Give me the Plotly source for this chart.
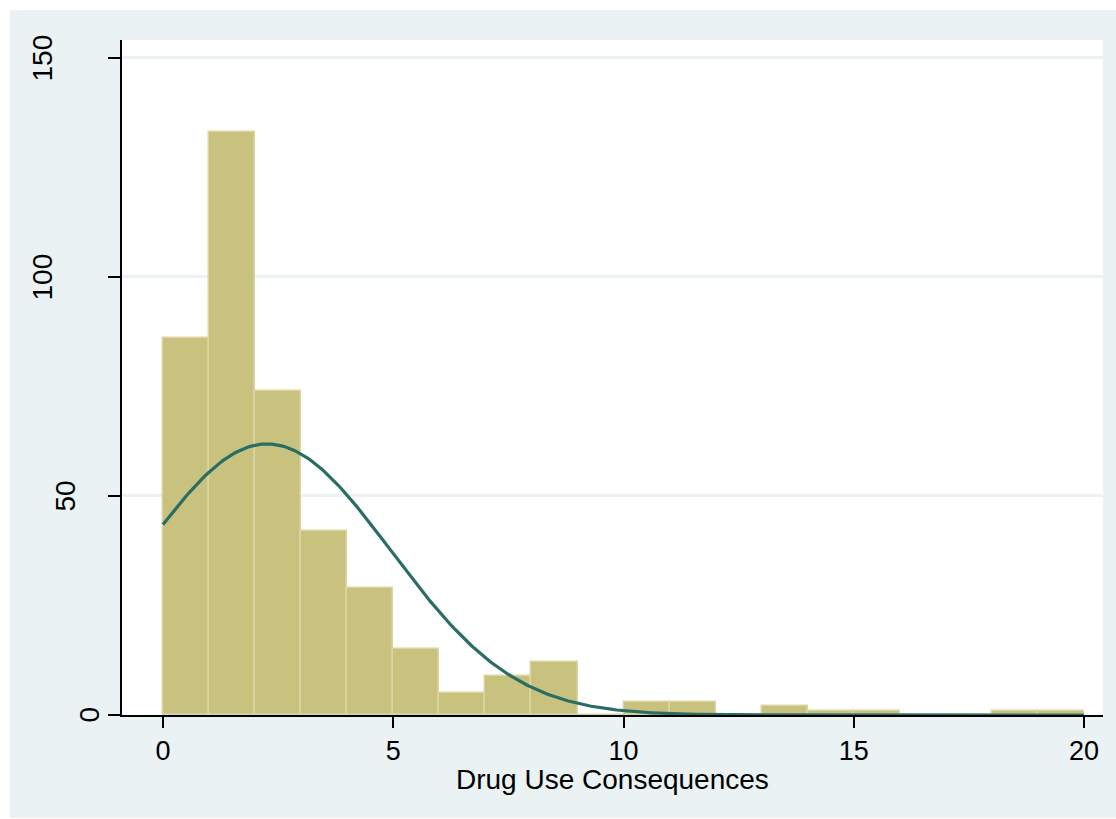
import numpy as np
import plotly.graph_objects as go

# Histogram data (bin width 1, bins start at 0)
bin_left = list(range(20))
counts = [86, 133, 74, 42, 29, 15, 5, 9, 12, 0, 3, 3, 0, 2, 1, 1, 0, 0, 1, 1]
y_ticks = [0, 50, 100, 150]
x_ticks = [0, 5, 10, 15, 20]
x_title = "Drug Use Consequences"

# normal density overlay fitted from the data (values = bin left edges)
vals = np.array(bin_left, dtype=float)
cnt = np.array(counts, dtype=float)
n = cnt.sum()
mu = (vals * cnt).sum() / n
sd = np.sqrt(((vals - mu) ** 2 * cnt).sum() / n)
xc = np.linspace(0, 20, 401)
yc = n * 1.0 / (sd * np.sqrt(2 * np.pi)) * np.exp(-0.5 * ((xc - mu) / sd) ** 2)

BG = "#EAF2F3"
FONT = "Liberation Sans, Arial, sans-serif"

fig = go.Figure()
fig.add_trace(go.Bar(
    x=[b + 0.5 for b in bin_left], y=counts, width=1,
    marker=dict(color="#C9C27F", line=dict(color="#DAD5A3", width=1.5)),
    showlegend=False,
))
fig.add_trace(go.Scatter(
    x=xc, y=yc, mode="lines",
    line=dict(color="#2A6D65", width=3.2), showlegend=False,
))

# y tick labels as rotated annotations (offset like the original)
for t in y_ticks:
    s = str(t)
    fig.add_annotation(
        x=0, xref="paper", y=t, yref="y", text=s, showarrow=False,
        textangle=-90, xanchor="center", yanchor="middle",
        xshift=-33.5 - 23 * (len(s) - 1),
        font=dict(family=FONT, size=28, color="black"),
    )

W, H = 1116, 819
L, R, T, B = 122, 13, 40, 104
pw, ph = W - L - R, H - T - B
def px(x):
    return (x - L) / pw
def py(y):
    return (H - B - y) / ph

# x-axis title
fig.add_annotation(
    x=0.5, xref="paper", y=py(779), yref="paper", text=x_title,
    showarrow=False, xanchor="center", yanchor="middle",
    font=dict(family=FONT, size=28, color="black"),
)

# thin white frame on top/left/bottom edges of the page
for x0, y0, x1, y1 in [(0, 0, W, 10), (0, 0, 10, H), (0, 818, W, H)]:
    fig.add_shape(type="rect", xref="paper", yref="paper",
                  x0=px(x0), x1=px(x1), y0=py(y1), y1=py(y0),
                  fillcolor="white", line=dict(width=0), layer="above")

fig.update_layout(
    width=W, height=H,
    margin=dict(l=L, r=R, t=T, b=B),
    paper_bgcolor=BG, plot_bgcolor="white",
    bargap=0,
    font=dict(family=FONT, size=28, color="black"),
    xaxis=dict(
        range=[-0.89, 20.41], tickvals=x_ticks, ticks="outside", ticklen=11,
        tickwidth=1.5, tickcolor="black", showline=True, linecolor="black",
        linewidth=1.5, showgrid=False, zeroline=False,
        tickfont=dict(family=FONT, size=27, color="black"),
    ),
    yaxis=dict(
        range=[0, 154.1], tickvals=y_ticks, ticks="outside", ticklen=12,
        tickwidth=1.5, tickcolor="black", showline=True, linecolor="black",
        linewidth=1.5, showgrid=True, gridcolor=BG, gridwidth=2.5,
        zeroline=False, showticklabels=False,
    ),
)

fig.write_html(
    "out.html",
    config={"displayModeBar": False},
    post_script="document.body.style.margin='0';document.body.style.overflow='hidden';",
)
